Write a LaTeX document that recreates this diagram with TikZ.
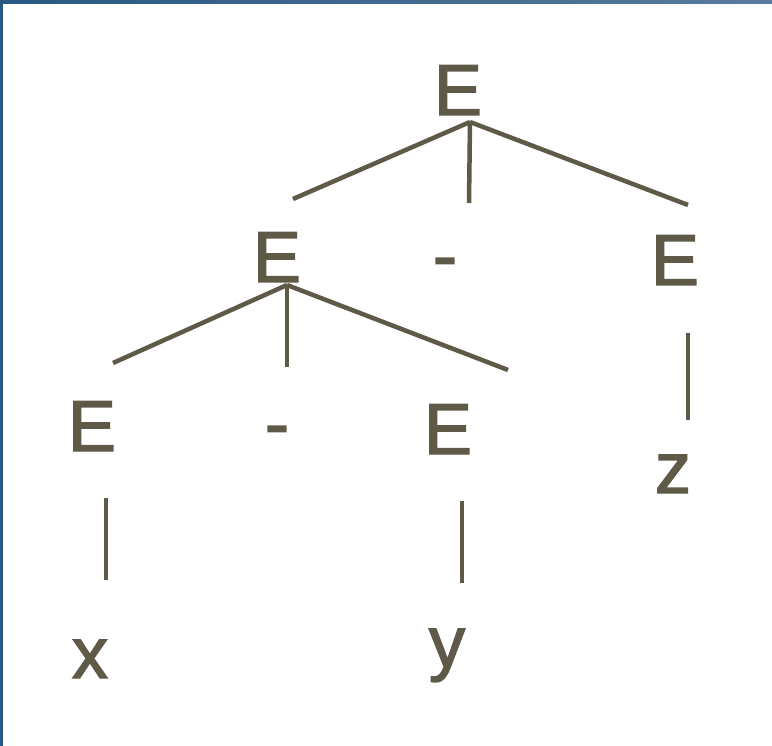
\documentclass[tikz,border=0pt]{standalone}
\usepackage{fontspec}
\setmainfont{Liberation Sans}
\newfontfamily\treefont{Liberation Sans}[BoldFont={Liberation Sans}, BoldFeatures={FakeBold=2}]
\definecolor{ink}{RGB}{95,90,72}
\definecolor{frameA}{RGB}{40,88,132}
\definecolor{frameB}{RGB}{88,124,156}
\tikzset{
  lbl/.style={anchor=base, inner sep=0pt, text=ink, font=\treefont\bfseries\fontsize{72}{80}\selectfont},
  edge/.style={draw=ink, line width=4.5pt}
}
\begin{document}
\begin{tikzpicture}[x=1pt,y=-1pt]
\useasboundingbox (0,0) rectangle (772,746);
\fill[white] (0,0) rectangle (772,746);
\shade[left color=frameA, right color=frameB] (0,0) rectangle (772,4);
\fill[frameA] (0,0) rectangle (3,746);

% text nodes
\node[lbl] (e0) at (458,115) {E};
\node[lbl] (e1) at (277,282) {E};
\node[lbl] (m1) at (445,280) {-};
\node[lbl] (e2) at (675,285) {E};
\node[lbl] (e3) at (92,451) {E};
\node[lbl] (m2) at (277,448) {-};
\node[lbl] (e4) at (448,454) {E};
\node[lbl] (z) at (673,493) {z};
\node[lbl] (x) at (90,678) {x};
\node[lbl] (y) at (447,667) {y};

% connector points
\coordinate (j0) at (470,122);
\coordinate (a0) at (293,199);
\coordinate (b0) at (469,203);
\coordinate (c0) at (688,205);
\coordinate (j1) at (287,285);
\coordinate (a1) at (113,363);
\coordinate (b1) at (287,367);
\coordinate (c1) at (508,370);
\coordinate (p1) at (106,498);
\coordinate (q1) at (106,580);
\coordinate (p2) at (462,501);
\coordinate (q2) at (462,583);
\coordinate (p3) at (688,333);
\coordinate (q3) at (688,420);

\draw[edge] (j0) -- (a0);
\draw[edge] (j0) -- (b0);
\draw[edge] (j0) -- (c0);
\draw[edge] (j1) -- (a1);
\draw[edge] (j1) -- (b1);
\draw[edge] (j1) -- (c1);
\draw[edge] (p1) -- (q1);
\draw[edge] (p2) -- (q2);
\draw[edge] (p3) -- (q3);
\end{tikzpicture}
\end{document}
